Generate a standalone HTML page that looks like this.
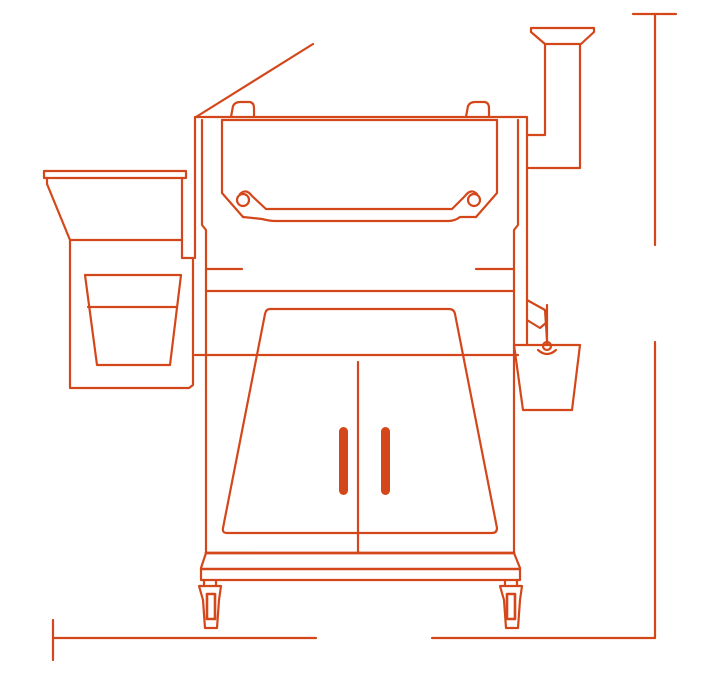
<!DOCTYPE html>
<html><head><meta charset="utf-8"><style>
html,body{margin:0;padding:0;background:#fff;width:712px;height:675px;overflow:hidden}
svg{display:block}
</style></head><body>
<svg width="712" height="675" viewBox="0 0 712 675" xmlns="http://www.w3.org/2000/svg">
<g fill="none" stroke="#d4471a" stroke-width="2.2" stroke-linejoin="round" stroke-linecap="round">
<line x1="633" y1="14" x2="676" y2="14"/>
<line x1="655" y1="14" x2="655" y2="245"/>
<line x1="655" y1="342" x2="655" y2="638"/>
<line x1="432" y1="638" x2="655" y2="638"/>
<line x1="53" y1="620" x2="53" y2="660"/>
<line x1="53" y1="638" x2="316" y2="638"/>
<line x1="196" y1="117" x2="313" y2="44"/>
<path d="M195 117 L527 117 L527 345"/>
<path d="M195 117 L195 258"/>
<path d="M202 120 L202 225 L206 230 L206 553"/>
<path d="M518 120 L518 225 L514 230 L514 553"/>
<path d="M231 117 L233 106 Q235 102 240 102 L250 102 Q254 103 254 108 L254 117"/>
<path d="M466 117 L468 106 Q470 102 475 102 L485 102 Q489 103 489 108 L489 117"/>
<path d="M222 120 L222 193 L243 217 M497 120 L497 193 L476 217"/>
<line x1="222" y1="120" x2="497" y2="120"/>
<circle cx="243" cy="200" r="6"/>
<circle cx="474" cy="200" r="6"/>
<path d="M240 194 Q246 188 252 196 L266 209 L452 209 L465 196 Q471 188 477 194"/>
<path d="M243 217 L262 219 Q270 221 275 221 L448 221 Q455 221 460 217 L476 217"/>
<line x1="207" y1="269" x2="242" y2="269"/>
<line x1="476" y1="269" x2="513" y2="269"/>
<line x1="206" y1="291" x2="514" y2="291"/>
<line x1="195" y1="355" x2="518" y2="355"/>
<path d="M270 309 L449 309 Q454 309 455 314 L497 528 Q497 533 492 533 L227 533 Q222 533 223 528 L265 314 Q266 309 270 309 Z"/>
<line x1="358" y1="362" x2="358" y2="552"/>
<line x1="206" y1="553" x2="514" y2="553" stroke-width="2.8"/>
<path d="M206 553 L201 568 L201 580 L520 580 L520 568 L514 553"/>
<line x1="201" y1="569" x2="520" y2="569" stroke-width="2.4"/>
<path d="M199 586 L221 586 L219 600 L217 628 L205 628 L203 600 Z"/>
<rect x="207" y="594" width="8" height="25" stroke-width="2.6"/>
<path d="M500 586 L522 586 L520 600 L518 628 L506 628 L504 600 Z"/>
<rect x="507" y="594" width="8" height="25" stroke-width="2.6"/>
<line x1="204" y1="580" x2="204" y2="586"/><line x1="216" y1="580" x2="216" y2="586"/>
<line x1="505" y1="580" x2="505" y2="586"/><line x1="517" y1="580" x2="517" y2="586"/>
<rect x="44" y="171" width="142" height="7"/>
<path d="M47 178 L47 184 L70 240 L182 240"/>
<path d="M182 178 L182 258 L193 258 L193 385 L189 388 L70 388 L70 240"/>
<path d="M85 275 L181 275 L170 365 L97 365 Z"/>
<line x1="88" y1="307" x2="177" y2="307"/>
<path d="M531 28 L594 28 L594 32 L581 44 L545 44 L531 32 Z"/>
<path d="M545 44 L545 135 L527 135"/>
<path d="M580 44 L580 168 L527 168"/>
<path d="M527 300 L545 310 L547 340"/>
<path d="M527 320 L540 328 L547 322"/>
<line x1="547" y1="305" x2="547" y2="345"/>
<circle cx="547" cy="346" r="4"/>
<path d="M514 345 L580 345 L572 410 L523 410 Z"/>
<path d="M538 350 Q547 358 556 350"/>
</g>
<g fill="#d4471a">
<rect x="339" y="427" width="9" height="68" rx="4.5"/>
<rect x="381" y="427" width="9" height="68" rx="4.5"/>
</g>
</svg>
</body></html>
